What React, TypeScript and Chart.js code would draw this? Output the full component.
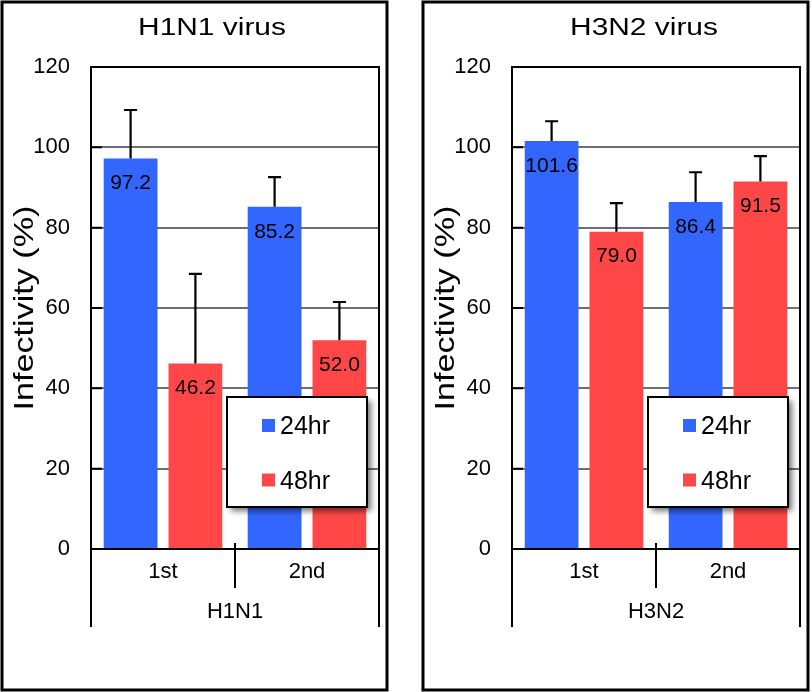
import React, { useEffect, useRef } from "react";
import { Chart, registerables } from "chart.js";
Chart.register(...registerables);

const categories = ["1st", "2nd"];
const seriesLabels = ["24hr", "48hr"];
const h1n1Hr24 = [97.2, 85.2];
const h1n1Hr48 = [46.2, 52.0];
const h1n1Hr24Err = [12.1, 7.4];
const h1n1Hr48Err = [22.3, 9.5];
const h3n2Hr24 = [101.6, 86.4];
const h3n2Hr48 = [79.0, 91.5];
const h3n2Hr24Err = [4.9, 7.4];
const h3n2Hr48Err = [7.1, 6.3];
const yTicks = [0, 20, 40, 60, 80, 100, 120];
const panelTitles = ["H1N1 virus", "H3N2 virus"];
const groupLabels = ["H1N1", "H3N2"];
const yAxisTitle = "Infectivity (%)";

const BLUE = "#3366ff";
const RED = "#ff4747";
const FONT = "'Liberation Sans', Arial, Helvetica, sans-serif";

function makeDecor(title: string, titleX: number) {
  return {
    id: "decor",
    beforeDraw(chart: any) {
      const ctx = chart.ctx;
      ctx.save();
      ctx.fillStyle = "#fff";
      ctx.fillRect(0, 0, chart.width, chart.height);
      ctx.restore();
    },
    afterDatasetsDraw(chart: any) {
      const ctx = chart.ctx;
      const y = chart.scales.y;
      chart.data.datasets.forEach((ds: any, di: number) => {
        const meta = chart.getDatasetMeta(di);
        meta.data.forEach((bar: any, i: number) => {
          const v = ds.data[i];
          const e = ds.errors[i];
          const top = y.getPixelForValue(v);
          const et = y.getPixelForValue(v + e);
          ctx.save();
          ctx.strokeStyle = "#000";
          ctx.lineWidth = 2.2;
          ctx.beginPath();
          ctx.moveTo(bar.x, top);
          ctx.lineTo(bar.x, et);
          ctx.moveTo(bar.x - 6.5, et);
          ctx.lineTo(bar.x + 6.5, et);
          ctx.stroke();
          ctx.fillStyle = "#000";
          ctx.font = `21px ${FONT}`;
          ctx.textAlign = "center";
          ctx.textBaseline = "middle";
          ctx.fillText(v.toFixed(1), bar.x, top + 25);
          ctx.restore();
        });
      });
    },
    afterDraw(chart: any) {
      const ctx = chart.ctx;
      const ca = chart.chartArea;
      const x = chart.scales.x;
      const y = chart.scales.y;
      ctx.save();
      ctx.strokeStyle = "#000";
      // plot frame
      ctx.lineWidth = 2;
      ctx.strokeRect(ca.left, ca.top, ca.right - ca.left, ca.bottom - ca.top);
      // inward ticks
      ctx.beginPath();
      yTicks.forEach((t) => {
        const py = y.getPixelForValue(t);
        ctx.moveTo(ca.left, py);
        ctx.lineTo(ca.left + 11, py);
      });
      ctx.stroke();
      // category box
      const sep = (x.getPixelForValue(0) + x.getPixelForValue(1)) / 2;
      ctx.beginPath();
      ctx.moveTo(ca.left, ca.bottom);
      ctx.lineTo(ca.left, ca.bottom + 78);
      ctx.moveTo(ca.right, ca.bottom);
      ctx.lineTo(ca.right, ca.bottom + 78);
      ctx.moveTo(sep, ca.bottom - 6);
      ctx.lineTo(sep, ca.bottom + 39);
      ctx.stroke();
      // panel border
      ctx.lineWidth = 3;
      ctx.strokeRect(2, 2, 385, 688);
      // title
      ctx.fillStyle = "#000";
      ctx.font = `23px ${FONT}`;
      ctx.textAlign = "center";
      ctx.textBaseline = "middle";
      ctx.save();
      ctx.translate(titleX, 29);
      ctx.scale(1.3, 1);
      ctx.fillText(title, 0, 0);
      ctx.restore();
      // y axis title
      ctx.save();
      ctx.translate(25, (ca.top + ca.bottom) / 2);
      ctx.rotate(-Math.PI / 2);
      ctx.scale(1.22, 1);
      ctx.font = `28px ${FONT}`;
      ctx.fillText(yAxisTitle, 0, 0);
      ctx.restore();
      // legend
      const bx = ca.left + 136;
      const by = ca.bottom - 152;
      const bw = 140;
      const bh = 110;
      ctx.save();
      ctx.shadowColor = "rgba(0,0,0,0.55)";
      ctx.shadowBlur = 6;
      ctx.shadowOffsetX = 4;
      ctx.shadowOffsetY = 4;
      ctx.fillStyle = "#fff";
      ctx.fillRect(bx, by, bw, bh);
      ctx.restore();
      ctx.lineWidth = 2;
      ctx.strokeRect(bx, by, bw, bh);
      chart.data.datasets.forEach((ds: any, di: number) => {
        const sqC = by + 28.5 + di * 54.5;
        ctx.fillStyle = ds.backgroundColor;
        ctx.fillRect(bx + 35, sqC - 6.5, 13, 13);
        ctx.fillStyle = "#000";
        ctx.font = `25px ${FONT}`;
        ctx.textAlign = "left";
        ctx.textBaseline = "middle";
        ctx.fillText(ds.label, bx + 53, sqC + 2);
      });
      ctx.restore();
    },
  };
}

type PanelProps = {
  left: number;
  title: string;
  group: string;
  d24: number[];
  d48: number[];
  e24: number[];
  e48: number[];
  titleX: number;
};

function Panel({ left, title, group, d24, d48, e24, e48, titleX }: PanelProps) {
  const ref = useRef<HTMLCanvasElement>(null);
  useEffect(() => {
    const chart = new Chart(ref.current as HTMLCanvasElement, {
      type: "bar",
      data: {
        labels: categories,
        datasets: [
          {
            label: seriesLabels[0],
            data: d24,
            errors: e24,
            backgroundColor: BLUE,
            borderWidth: 0,
            categoryPercentage: 0.9,
            barPercentage: 0.83,
          } as any,
          {
            label: seriesLabels[1],
            data: d48,
            errors: e48,
            backgroundColor: RED,
            borderWidth: 0,
            categoryPercentage: 0.9,
            barPercentage: 0.83,
          } as any,
        ],
      },
      options: {
        responsive: false,
        animation: false,
        layout: { padding: { left: 31, right: 12, top: 67, bottom: 65 } },
        plugins: {
          legend: { display: false },
          title: { display: false },
          tooltip: { enabled: false },
        },
        scales: {
          x: {
            grid: { display: false, drawTicks: false },
            border: { display: false },
            ticks: { color: "#000", font: { size: 22, family: FONT }, padding: 10 },
            title: {
              display: true,
              text: group,
              color: "#000",
              font: { size: 22, family: FONT },
              padding: { top: 0, bottom: 2 },
            },
            afterFit(s: any) {
              s.height = 78;
            },
          },
          y: {
            min: 0,
            max: 120,
            afterBuildTicks(s: any) {
              s.ticks = yTicks.map((v) => ({ value: v }));
            },
            ticks: { color: "#000", font: { size: 22, family: FONT }, padding: 21 },
            grid: {
              drawTicks: false,
              color: (c: any) =>
                c.tick && (c.tick.value === 0 || c.tick.value === 120) ? "rgba(0,0,0,0)" : "#6e6e6e",
              lineWidth: 2,
            },
            border: { display: false },
            afterFit(s: any) {
              s.width = 60;
            },
          },
        },
      } as any,
      plugins: [makeDecor(title, titleX) as any],
    });
    return () => chart.destroy();
  }, []);
  return (
    <canvas
      ref={ref}
      width={391}
      height={692}
      style={{ position: "absolute", left, top: 0, display: "block" }}
    />
  );
}

export default function App() {
  return (
    <div
      style={{
        position: "fixed",
        left: 0,
        top: 0,
        width: 812,
        height: 692,
        background: "#fff",
        overflow: "hidden",
      }}
    >
      <Panel
        left={0}
        title={panelTitles[0]}
        group={groupLabels[0]}
        d24={h1n1Hr24}
        d48={h1n1Hr48}
        e24={h1n1Hr24Err}
        e48={h1n1Hr48Err}
        titleX={212}
      />
      <Panel
        left={421}
        title={panelTitles[1]}
        group={groupLabels[1]}
        d24={h3n2Hr24}
        d48={h3n2Hr48}
        e24={h3n2Hr24Err}
        e48={h3n2Hr48Err}
        titleX={223}
      />
    </div>
  );
}
